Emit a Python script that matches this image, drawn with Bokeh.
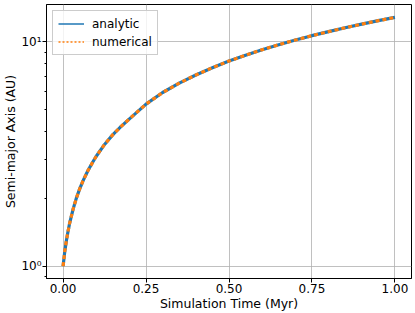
from bokeh.plotting import figure
from bokeh.models import FixedTicker, Legend, LegendItem, ColumnDataSource, Range1d
from bokeh.embed import file_html
from bokeh.resources import INLINE

# Data
time_myr = [0.0, 0.005, 0.01, 0.015, 0.02, 0.03, 0.04, 0.05, 0.06, 0.075, 0.09,
            0.1, 0.125, 0.15, 0.175, 0.2, 0.25, 0.3, 0.35, 0.4, 0.45, 0.5,
            0.55, 0.6, 0.65, 0.7, 0.75, 0.8, 0.85, 0.9, 0.95, 1.0]
analytic_au = [1.0, 1.16, 1.30, 1.43, 1.56, 1.79, 2.01, 2.21, 2.40, 2.67, 2.92,
               3.09, 3.49, 3.86, 4.20, 4.54, 5.28, 5.95, 6.55, 7.12, 7.68, 8.22,
               8.73, 9.24, 9.72, 10.2, 10.67, 11.12, 11.57, 12.02, 12.45, 12.88]
numerical_au = [1.0, 1.16, 1.30, 1.43, 1.56, 1.79, 2.01, 2.21, 2.40, 2.67, 2.92,
                3.09, 3.49, 3.86, 4.20, 4.54, 5.28, 5.95, 6.55, 7.12, 7.68, 8.22,
                8.73, 9.24, 9.72, 10.2, 10.67, 11.12, 11.57, 12.02, 12.45, 12.88]

x_ticks = [0.0, 0.25, 0.5, 0.75, 1.0]
x_tick_labels = ["0.00", "0.25", "0.50", "0.75", "1.00"]
y_ticks = [1, 10]
y_tick_labels = ["10\u2070", "10\u00b9"]
y_minor = [0.9, 2, 3, 4, 5, 6, 7, 8, 9]

series_names = ["analytic", "numerical"]
blue = "#1f77b4"
orange = "#ff7f0e"
FONT = "DejaVu Sans"

p = figure(width=415, height=313, y_axis_type="log",
           x_range=Range1d(-0.05, 1.05), y_range=Range1d(0.88, 14.7),
           output_backend="svg", toolbar_location=None,
           min_border_left=0, min_border_right=4, min_border_top=4, min_border_bottom=0)

p.background_fill_color = "white"
p.border_fill_color = "white"
p.outline_line_color = "black"
p.outline_line_width = 1
p.outline_line_alpha = 1

src = ColumnDataSource(dict(t=time_myr, a=analytic_au, n=numerical_au))
# thin legend glyphs (hidden below the thick curves)
r1 = p.line("t", "a", source=src, line_color=blue, line_width=1.5)
r2 = p.line("t", "n", source=src, line_color=orange, line_width=1.5, line_dash="2 2")
p.line("t", "a", source=src, line_color=blue, line_width=3.2)
p.line("t", "n", source=src, line_color=orange, line_width=3.2, line_dash="4 3")

legend = Legend(items=[LegendItem(label=series_names[0], renderers=[r1]),
                       LegendItem(label=series_names[1], renderers=[r2])],
                location="top_left")
legend.margin = 6
legend.padding = 5
legend.spacing = 3
legend.glyph_width = 26
legend.glyph_height = 15
legend.label_height = 15
legend.label_standoff = 8
legend.label_text_font = FONT
legend.label_text_font_size = "12px"
legend.label_text_color = "black"
legend.border_line_color = "#cccccc"
legend.border_line_width = 1
legend.border_line_alpha = 1
legend.background_fill_alpha = 0.8
p.add_layout(legend)

# axes
p.xaxis.ticker = FixedTicker(ticks=x_ticks, minor_ticks=[])
p.xaxis.major_label_overrides = {t: l for t, l in zip(x_ticks, x_tick_labels)}
p.yaxis.ticker = FixedTicker(ticks=y_ticks, minor_ticks=y_minor)
p.yaxis.major_label_overrides = {t: l for t, l in zip(y_ticks, y_tick_labels)}

p.xaxis.axis_label = "Simulation Time (Myr)"
p.yaxis.axis_label = "Semi-major Axis (AU)"
for ax in (p.xaxis, p.yaxis):
    ax.axis_label_text_font = FONT
    ax.axis_label_text_font_size = "12.5px"
    ax.axis_label_text_font_style = "normal"
    ax.axis_label_text_color = "black"
    ax.major_label_text_font = FONT
    ax.major_label_text_font_size = "12px"
    ax.major_label_text_color = "black"
    ax.axis_line_color = "black"
    ax.major_tick_line_color = "black"
    ax.minor_tick_line_color = "black"
    ax.major_tick_out = 4
    ax.major_tick_in = 0
    ax.minor_tick_out = 2
    ax.minor_tick_in = 0
    ax.major_label_standoff = 1
    ax.axis_label_standoff = 0

p.xgrid.grid_line_color = "#b0b0b0"
p.ygrid.grid_line_color = "#b0b0b0"
p.xgrid.grid_line_width = 0.8
p.ygrid.grid_line_width = 0.8

open("out.html", "w").write(file_html(p, INLINE))
